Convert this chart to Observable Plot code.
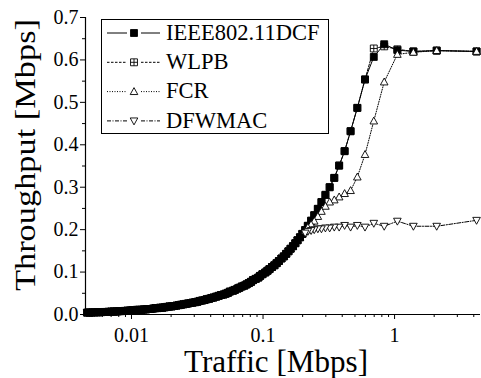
<!DOCTYPE html>
<html><head><meta charset="utf-8">
<script src="https://cdn.jsdelivr.net/npm/d3@7"></script>
<script src="https://cdn.jsdelivr.net/npm/@observablehq/plot@0.6"></script>
<style>
html,body{margin:0;padding:0;background:#fff;}
#chart{position:relative;width:481px;height:378px;overflow:hidden;font-family:'Liberation Serif',serif;}
#chart text{font-family:'Liberation Serif',serif !important;}
#legend{position:absolute;left:101px;top:19px;width:226px;height:113px;border:1px solid #000;background:#fff;z-index:2;}
#legend svg{position:absolute;left:0;top:0;}
#legend .lt{position:absolute;left:64px;font-family:'Liberation Serif',serif;font-size:22.5px;line-height:22.5px;color:#000;white-space:nowrap;}
</style></head><body>
<div id="chart">
  <div id="legend">
    <svg id="legendSvg" width="226" height="113"></svg>
    <div class="lt" style="top:1.7px">IEEE802.11DCF</div>
    <div class="lt" style="top:31px">WLPB</div>
    <div class="lt" style="top:60.3px">FCR</div>
    <div class="lt" style="top:89.6px">DFWMAC</div>
  </div>
</div>
<script>
// ---- data ----
const seriesNames = ["IEEE802.11DCF", "WLPB", "FCR", "DFWMAC"];
// high-load points where the protocols differ
const traffic = [4.2, 2.09, 1.39, 1.05, 0.834, 0.695, 0.596, 0.521, 0.463, 0.417, 0.379, 0.348, 0.321, 0.298, 0.278, 0.261, 0.245, 0.232, 0.219, 0.209];
const dcf    = [0.620, 0.622, 0.620, 0.623, 0.637, 0.607, 0.554, 0.487, 0.432, 0.385, 0.351, 0.322, 0.300, 0.282, 0.265, 0.249, 0.234, 0.221, 0.209, 0.199];
const wlpb   = [0.620, 0.622, 0.620, 0.625, 0.632, 0.627, 0.554, 0.487, 0.432, 0.385, 0.351, 0.322, 0.300, 0.282, 0.265, 0.249, 0.234, 0.221, 0.209, 0.199];
const fcr    = [0.620, 0.622, 0.618, 0.613, 0.548, 0.456, 0.377, 0.324, 0.292, 0.285, 0.277, 0.270, 0.265, 0.255, 0.243, 0.231, 0.220, 0.212, 0.205, 0.197];
const dfwmac = [0.222, 0.208, 0.208, 0.220, 0.208, 0.215, 0.206, 0.210, 0.206, 0.210, 0.206, 0.206, 0.204, 0.204, 0.202, 0.202, 0.200, 0.198, 0.196, 0.192];
// low-load points where all four curves coincide
const lowTraffic = [0.199,0.191,0.183,0.176,0.169,0.162,0.156,0.150,0.144,0.138,
  0.132,0.127,0.122,0.117,0.112,0.108,0.104,0.099,0.095,0.092,
  0.088,0.084,0.081,0.078,0.075,0.072,0.069,0.066,0.064,0.061,
  0.059,0.056,0.054,0.052,0.050,0.048,0.046,0.044,0.042,0.0405,
  0.0389,0.0373,0.0359,0.0344,0.0330,0.0317,0.0305,0.0292,0.0281,0.0269,
  0.0259,0.0248,0.0238,0.0229,0.0220,0.0211,0.0202,0.0194,0.0186,0.0179,
  0.0172,0.0165,0.0158,0.0152,0.0146,0.0140,0.0134,0.0129,0.0124,0.0119,
  0.0114,0.0110,0.0105,0.0101,0.0097,0.0093,0.0089,0.0086,0.0082,0.0079,
  0.0076,0.0073,0.0070,0.0067,0.0064,0.0062,0.0059,0.0057,0.0055,0.0052,
  0.0050,0.0048,0.0046];
const lowThroughput = [0.190,0.182,0.175,0.168,0.161,0.155,0.149,0.143,0.137,0.132,
  0.126,0.121,0.116,0.112,0.107,0.103,0.099,0.095,0.091,0.087,
  0.084,0.081,0.077,0.074,0.071,0.068,0.066,0.063,0.061,0.058,
  0.056,0.054,0.051,0.049,0.047,0.046,0.044,0.042,0.040,0.039,
  0.037,0.036,0.034,0.033,0.032,0.030,0.029,0.028,0.027,0.026,
  0.025,0.024,0.023,0.022,0.021,0.020,0.019,0.019,0.018,0.017,
  0.016,0.016,0.015,0.015,0.014,0.013,0.013,0.012,0.012,0.011,
  0.011,0.011,0.010,0.010,0.009,0.009,0.0085,0.008,0.008,0.0075,
  0.007,0.007,0.0067,0.0064,0.006,0.006,0.0056,0.0054,0.0053,0.005,
  0.0048,0.0046,0.0044];
const xMajorTicks = [0.01, 0.1, 1];
const xMinorTicks = [0.005,0.006,0.007,0.008,0.009,0.02,0.03,0.04,0.05,0.06,0.07,0.08,0.09,0.2,0.3,0.4,0.5,0.6,0.7,0.8,0.9,2,3,4];
const yMajorTicks = [0, 0.1, 0.2, 0.3, 0.4, 0.5, 0.6, 0.7];
const yMinorTicks = [0.05, 0.15, 0.25, 0.35, 0.45, 0.55, 0.65];
const xDomain = [0.00447, 4.5];
const yDomain = [0, 0.7];
const xTitle = "Traffic [Mbps]";
const yTitle = "Throughput [Mbps]";

// ---- symbols ----
function makeSymbol(fn){ return {draw(c, size){ const h = Math.sqrt(size) / 2; fn(c, h); }}; }
const symSquare = makeSymbol((c,h)=>{c.moveTo(-h,-h);c.lineTo(h,-h);c.lineTo(h,h);c.lineTo(-h,h);c.closePath();});
const symBoxPlus = makeSymbol((c,h)=>{c.moveTo(-h,-h);c.lineTo(h,-h);c.lineTo(h,h);c.lineTo(-h,h);c.closePath();
  c.moveTo(-h,0);c.lineTo(h,0);c.moveTo(0,-h);c.lineTo(0,h);});
const symUp = makeSymbol((c,h)=>{c.moveTo(0,-h*1.15);c.lineTo(h*1.1,h*0.85);c.lineTo(-h*1.1,h*0.85);c.closePath();});
const symDown = makeSymbol((c,h)=>{c.moveTo(0,h*1.15);c.lineTo(h*1.1,-h*0.85);c.lineTo(-h*1.1,-h*0.85);c.closePath();});

const styles = [
  {symbol: symSquare, fill: "black", dash: null},
  {symbol: symBoxPlus, fill: "white", dash: "2.5,1.5"},
  {symbol: symUp, fill: "white", dash: "1,1.5"},
  {symbol: symDown, fill: "white", dash: "4,1.5,1,1.5"}
];
const highValues = [dcf, wlpb, fcr, dfwmac];
const R = 3.9;

const highRows = seriesNames.map((name, i) => traffic.map((t, j) => ({traffic: t, throughput: highValues[i][j]})));
const lowRows = lowTraffic.map((t, j) => ({traffic: t, throughput: lowThroughput[j]}));

const lineMarks = seriesNames.map((name, i) =>
  Plot.line(highRows[i].concat(lowRows), {x: "traffic", y: "throughput", stroke: "black", strokeWidth: 1, strokeDasharray: styles[i].dash}));
const dotMark = (rows, i) => Plot.dot(rows, {x: "traffic", y: "throughput", symbol: styles[i].symbol, r: R, fill: styles[i].fill, stroke: "black", strokeWidth: 0.9});
// draw order: WLPB under DCF; triangles on top at high load; DCF squares on top in the dense low-load band
const highOrder = [1, 0, 2, 3];
const lowOrder = [1, 2, 3, 0];

const font = "Liberation Serif";
const chart = Plot.plot({
  width: 481, height: 378,
  marginLeft: 85, marginRight: 1, marginTop: 17, marginBottom: 64,
  style: {fontFamily: font, fontSize: "20px", background: "white", color: "black"},
  x: {type: "log", domain: xDomain, axis: null},
  y: {domain: yDomain, axis: null},
  marks: [
    ...lineMarks,
    ...lowOrder.map(i => dotMark(lowRows, i)),
    ...highOrder.map(i => dotMark(highRows[i], i)),
    Plot.ruleY([yDomain[0]], {stroke: "black", strokeWidth: 1.2}),
    Plot.ruleX([xDomain[0]], {stroke: "black", strokeWidth: 1.2}),
    Plot.axisX({ticks: xMajorTicks, tickSize: 5, tickPadding: 8, tickFormat: d => String(d), fontSize: 20, fontFamily: font, label: null}),
    Plot.axisX({ticks: xMinorTicks, tickSize: 3, tickFormat: () => "", label: null}),
    Plot.axisY({ticks: yMajorTicks, tickSize: 5, tickPadding: 2, tickFormat: d3.format(".1f"), fontSize: 20, fontFamily: font, label: null}),
    Plot.axisY({ticks: yMinorTicks, tickSize: 3, tickFormat: () => "", label: null}),
    Plot.text([xTitle], {frameAnchor: "bottom", textAnchor: "middle", lineAnchor: "bottom", dy: 57, dx: -7, fontSize: 31, fontFamily: font, fill: "black"}),
    Plot.text([yTitle], {frameAnchor: "left", textAnchor: "middle", rotate: -90, dx: -60, dy: -11, fontSize: 29, fontFamily: font, fill: "black"})
  ]
});
const root = document.getElementById("chart");
root.insertBefore(chart, root.firstChild);
// stretch the axis titles to the reference's lengths
d3.select(chart).selectAll("text").each(function(){
  const t = this.textContent;
  if (t === xTitle) d3.select(this).attr("textLength", 184).attr("lengthAdjust", "spacingAndGlyphs");
  if (t === yTitle) d3.select(this).attr("textLength", 272).attr("lengthAdjust", "spacingAndGlyphs");
});

// ---- legend symbols ----
const lsvg = d3.select("#legendSvg");
seriesNames.forEach((name, i) => {
  const y = 13 + i * 29.3;
  const st = styles[i];
  const g = lsvg.append("g");
  [[5, 25], [39, 58]].forEach(([a, b]) => {
    g.append("line").attr("x1", a).attr("x2", b).attr("y1", y).attr("y2", y)
      .attr("stroke", "black").attr("stroke-width", 1).attr("stroke-dasharray", st.dash);
  });
  g.append("path").attr("d", d3.symbol(st.symbol, Math.PI * R * R)())
    .attr("transform", `translate(32,${y})`).attr("fill", st.fill).attr("stroke", "black").attr("stroke-width", 0.9);
});
</script></body></html>
